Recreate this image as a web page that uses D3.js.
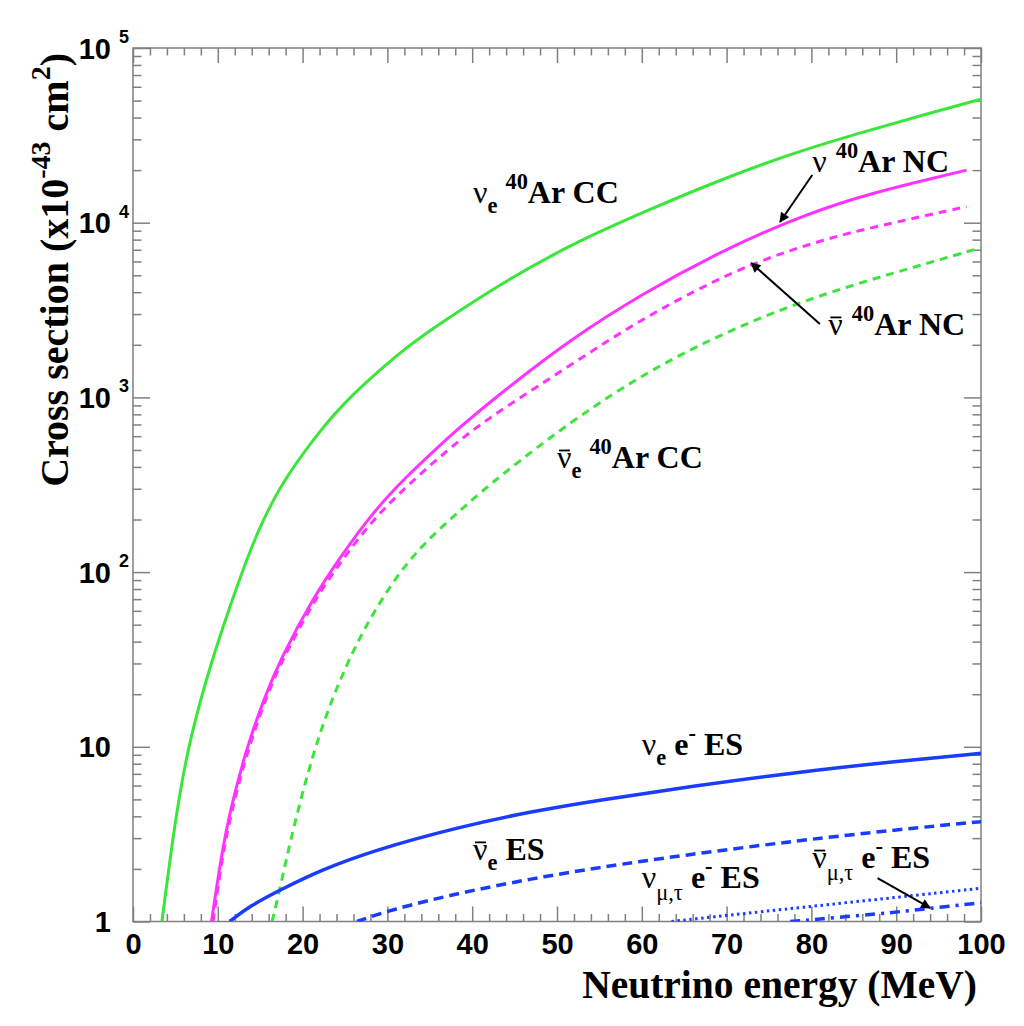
<!DOCTYPE html>
<html><head><meta charset="utf-8">
<script src="https://cdn.jsdelivr.net/npm/d3@7"></script>
<style>body{margin:0;background:#fff}</style>
</head><body>
<svg id="chart" width="1024" height="1026"></svg>
<script>
// ---------- data ----------
const xMajorTicks = [0,10,20,30,40,50,60,70,80,90,100];
const yDecadeExponents = [0,1,2,3,4,5];

// nu_e 40Ar CC (green solid)
const energyNueArCC = [3.41, 4.74, 5.73, 6.72, 9.08, 12.62, 14.58, 17.3, 21.3, 25.2, 31.6, 35.0, 43.4, 51.9, 60.3, 68.7, 77.1, 85.5, 93.9, 100];
const sigmaNueArCC  = [1, 3.14, 6.19, 11.0, 29.6, 93.5, 166, 311, 581, 979, 1833, 2420, 4500, 7620, 11560, 17170, 24400, 32500, 42300, 51000];

// nubar_e 40Ar CC (green dashed)
const energyNuebarArCC = [16.4, 17.3, 18.5, 20.5, 22.8, 26.0, 29.1, 33.0, 38.6, 43.4, 51.9, 60.3, 68.7, 77.1, 85.5, 93.9, 100];
const sigmaNuebarArCC  = [1, 1.51, 2.83, 6.87, 15.8, 36.5, 68, 128, 227, 360, 743, 1374, 2226, 3305, 4500, 5900, 7200];

// nu 40Ar NC (magenta solid)
const energyNuArNC = [9.26, 10.44, 11.44, 13.4, 15.57, 17.3, 21.3, 24.4, 28.3, 32.3, 35.2, 38.6, 43.4, 51.5, 60.3, 68.7, 77.1, 85.5, 93.9, 98.3];
const sigmaNuArNC  = [1, 2.42, 4.3, 9.9, 19.5, 31.2, 72, 121, 221, 354, 480, 680, 1060, 2140, 3980, 6610, 10140, 14130, 17780, 20000];

// nubar 40Ar NC (magenta dashed)
const energyNubarArNC = [9.45, 10.44, 11.44, 13.4, 15.57, 17.3, 21.3, 24.4, 28.3, 32.3, 38.6, 43.4, 51.9, 60.3, 68.7, 72.9, 77.1, 81, 85.5, 93.9, 98.3];
const sigmaNubarArNC  = [1, 2.2, 3.95, 9.2, 18.3, 29.5, 68, 113, 200, 312, 580, 848, 1567, 2880, 4680, 5750, 6840, 7850, 9020, 11090, 12360];

// nu_e e- ES (blue solid)
const energyNueES = [11.4, 13.8, 17.3, 22.05, 28.3, 38.6, 46.8, 55, 66, 78.7, 90, 100];
const sigmaNueES  = [1, 1.23, 1.51, 1.96, 2.55, 3.49, 4.25, 4.96, 5.95, 7.2, 8.25, 9.18];

// nubar_e e- ES (blue dashed)
const energyNuebarES = [26.4, 30.3, 38.6, 47, 55, 65, 78.7, 90, 100];
const sigmaNuebarES  = [1, 1.164, 1.462, 1.758, 2.042, 2.399, 2.917, 3.35, 3.73];

// nu_mu,tau e- ES (blue dotted)
const energyNumutauES = [63.5, 70, 78.7, 90, 100];
const sigmaNumutauES  = [1, 1.084, 1.202, 1.374, 1.55];

// nubar_mu,tau e- ES (blue dash-dot)
const energyNumutaubarES = [77.5, 88.5, 94, 100];
const sigmaNumutaubarES  = [1, 1.11, 1.19, 1.28];

// label anchors (energy, cross section) and arrows
const NU = "\u03BD";
const labels = [
  {E:40.1, s:12970, segs:[{t:NU,k:'g'},{t:'e',k:'sub'},{t:'40',k:'sup',dx:8},{t:'Ar CC'}]},
  {E:80.1, s:19500, segs:[{t:NU,k:'g'},{t:'40',k:'sup',dx:9},{t:'Ar NC'}]},
  {E:82.0, s:2276,  segs:[{t:NU,k:'g',bar:true},{t:'40',k:'sup',dx:9},{t:'Ar NC'}]},
  {E:50.0, s:394,   segs:[{t:NU,k:'g',bar:true},{t:'e',k:'sub'},{t:'40',k:'sup',dx:8},{t:'Ar CC'}]},
  {E:60.0, s:8.98,  segs:[{t:NU,k:'g'},{t:'e',k:'sub'},{t:' e'},{t:'-',k:'sup'},{t:' ES'}]},
  {E:40.1, s:2.25,  segs:[{t:NU,k:'g',bar:true},{t:'e',k:'sub'},{t:' ES'}]},
  {E:60.0, s:1.555, segs:[{t:NU,k:'g'},{t:'\u03BC,\u03C4',k:'subg'},{t:' e'},{t:'-',k:'sup'},{t:' ES'}]},
  {E:80.1, s:2.02,  segs:[{t:NU,k:'g',bar:true},{t:'\u03BC,\u03C4',k:'subg'},{t:' e'},{t:'-',k:'sup'},{t:' ES'}]}
];
const arrows = [
  {from:[80.1,18750], to:[76.3,10100]},
  {from:[81.0,2630],  to:[72.9,5880]},
  {from:[87.8,1.77],  to:[94.0,1.195]}
];

// ---------- layout ----------
const plot = {left:133, right:981, top:48, bottom:921.5};
const GREEN = '#3be63b', MAGENTA = '#ff33ff', BLUE = '#1a3cff', AXIS = '#808080';
const LABEL_SIZE = 32;

const series = [
  {E:energyNueArCC,      S:sigmaNueArCC,      color:GREEN,   dash:null,        w:3},
  {E:energyNuebarArCC,   S:sigmaNuebarArCC,   color:GREEN,   dash:'8,6',       w:3},
  {E:energyNuArNC,       S:sigmaNuArNC,       color:MAGENTA, dash:null,        w:3},
  {E:energyNubarArNC,    S:sigmaNubarArNC,    color:MAGENTA, dash:'8,6',       w:3},
  {E:energyNueES,        S:sigmaNueES,        color:BLUE,    dash:null,        w:3.5},
  {E:energyNuebarES,     S:sigmaNuebarES,     color:BLUE,    dash:'10,6',      w:3.5},
  {E:energyNumutauES,    S:sigmaNumutauES,    color:BLUE,    dash:'2.5,3.5',   w:3},
  {E:energyNumutaubarES, S:sigmaNumutaubarES, color:BLUE,    dash:'10,6,3,6',  w:3.5}
];

const x = d3.scaleLinear().domain([0,100]).range([plot.left, plot.right]);
const y = d3.scaleLog().domain([1,1e5]).range([plot.bottom, plot.top]);
const svg = d3.select('#chart');

const defs = svg.append('defs');
defs.append('clipPath').attr('id','clip')
  .append('rect').attr('x',plot.left).attr('y',plot.top)
  .attr('width',plot.right-plot.left).attr('height',plot.bottom-plot.top);
defs.append('marker').attr('id','head')
  .attr('viewBox','0 0 10 10').attr('refX',9).attr('refY',5)
  .attr('markerWidth',13).attr('markerHeight',10).attr('markerUnits','userSpaceOnUse')
  .attr('orient','auto')
  .append('path').attr('d','M0,0 L10,5 L0,10 Z').attr('fill','#000');

// ---------- axes (ticks inward on all four sides) ----------
const xMinor = d3.range(0,101,2).filter(v=>v%10!==0);
const yMajorVals = yDecadeExponents.map(e=>Math.pow(10,e));
const yMinor = [];
yDecadeExponents.slice(0,-1).forEach(e=>{ for(let k=2;k<=9;k++) yMinor.push(k*Math.pow(10,e)); });

function axisGroup(axis, tr){
  const g = svg.append('g').attr('transform',tr).attr('color',AXIS).call(axis);
  g.select('.domain').remove();
  g.selectAll('line').attr('stroke-width',1.5);
  return g;
}
const gxb = axisGroup(d3.axisBottom(x).tickValues(xMajorTicks).tickSize(-15).tickPadding(12).tickFormat(d3.format('d')), `translate(0,${plot.bottom})`);
gxb.selectAll('text').attr('fill','#000').attr('font-family','Liberation Sans, Arial, sans-serif')
   .attr('font-weight','bold').attr('font-size',29);
axisGroup(d3.axisBottom(x).tickValues(xMinor).tickSize(-7.5).tickFormat(''), `translate(0,${plot.bottom})`);
axisGroup(d3.axisTop(x).tickValues(xMajorTicks).tickSize(-15).tickFormat(''), `translate(0,${plot.top})`);
axisGroup(d3.axisTop(x).tickValues(xMinor).tickSize(-7.5).tickFormat(''), `translate(0,${plot.top})`);
axisGroup(d3.axisLeft(y).tickValues(yMajorVals).tickSize(-17).tickFormat(''), `translate(${plot.left},0)`);
axisGroup(d3.axisLeft(y).tickValues(yMinor).tickSize(-8.5).tickFormat(''), `translate(${plot.left},0)`);
axisGroup(d3.axisRight(y).tickValues(yMajorVals).tickSize(-17).tickFormat(''), `translate(${plot.right},0)`);
axisGroup(d3.axisRight(y).tickValues(yMinor).tickSize(-8.5).tickFormat(''), `translate(${plot.right},0)`);

// y tick labels: 1, 10, 10^2 ...
const ylab = svg.append('g').attr('font-family','Liberation Sans, Arial, sans-serif').attr('font-weight','bold');
yDecadeExponents.forEach(e=>{
  const yy = y(Math.pow(10,e));
  ylab.append('text').attr('x',111).attr('y',yy+10.5).attr('text-anchor','end')
     .attr('font-size',29).text(e===0?'1':'10');
  if(e>=2) ylab.append('text').attr('x',119).attr('y',yy-5).attr('font-size',18).text(e);
});

// frame
svg.append('rect').attr('x',plot.left).attr('y',plot.top)
  .attr('width',plot.right-plot.left).attr('height',plot.bottom-plot.top)
  .attr('fill','none').attr('stroke',AXIS).attr('stroke-width',1.5);

// ---------- curves ----------
const line = d3.line().x(d=>x(d[0])).y(d=>y(d[1])).curve(d3.curveBasis);
const gc = svg.append('g').attr('clip-path','url(#clip)');
series.forEach(s=>{
  gc.append('path').datum(s.E.map((e,i)=>[e,s.S[i]]))
    .attr('d',line).attr('fill','none').attr('stroke',s.color)
    .attr('stroke-width',s.w).attr('stroke-dasharray',s.dash);
});

// ---------- rich text helper ----------
function rich(t, segs, size){
  let off = 0, idx = 0; const bars = [];
  segs.forEach(s=>{
    let target = 0, fs = size, greek = false;
    if(s.k==='sup'){ target = -0.45*size; fs = 0.7*size; }
    if(s.k==='sub'){ target = 0.32*size; fs = 0.7*size; }
    if(s.k==='subg'){ target = 0.38*size; fs = 0.7*size; greek = true; }
    if(s.k==='g'){ greek = true; }
    const ts = t.append('tspan').attr('dy', target-off).attr('font-size',fs).text(s.t);
    if(s.dx) ts.attr('dx', s.dx);
    if(greek) ts.attr('font-weight','normal');
    if(s.bar) bars.push(idx);
    idx += s.t.length;
    off = target;
  });
  return bars;
}

// annotations
const gl = svg.append('g').attr('font-family','Liberation Serif, Times New Roman, serif').attr('font-weight','bold');
labels.forEach(l=>{
  const t = gl.append('text').attr('x',x(l.E)).attr('y',y(l.s)).attr('font-size',LABEL_SIZE).style('white-space','pre');
  const bars = rich(t, l.segs, LABEL_SIZE);
  const n = t.node();
  bars.forEach(i=>{
    const p0 = n.getStartPositionOfChar(i), p1 = n.getEndPositionOfChar(i);
    gl.append('line').attr('x1',p0.x+2).attr('x2',p1.x-1.5)
      .attr('y1',p0.y-0.55*LABEL_SIZE).attr('y2',p0.y-0.55*LABEL_SIZE)
      .attr('stroke','#000').attr('stroke-width',1.8);
  });
});
arrows.forEach(a=>{
  svg.append('line').attr('x1',x(a.from[0])).attr('y1',y(a.from[1]))
    .attr('x2',x(a.to[0])).attr('y2',y(a.to[1]))
    .attr('stroke','#000').attr('stroke-width',2).attr('marker-end','url(#head)');
});

// axis titles
svg.append('text').attr('x',977).attr('y',998).attr('text-anchor','end')
  .attr('font-family','Liberation Serif, Times New Roman, serif').attr('font-weight','bold')
  .attr('font-size',39.5).text('Neutrino energy (MeV)');
const yt = svg.append('text').attr('transform','translate(68,53) rotate(-90)').attr('text-anchor','end')
  .attr('font-family','Liberation Serif, Times New Roman, serif').attr('font-weight','bold')
  .attr('font-size',40).style('white-space','pre');
rich(yt, [{t:'Cross section (x10'},{t:'-43',k:'sup'},{t:' cm'},{t:'2',k:'sup'},{t:')'}], 40);
</script>
</body></html>
